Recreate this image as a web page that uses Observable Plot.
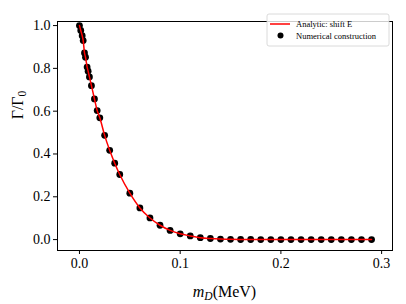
<!DOCTYPE html>
<html>
<head>
<meta charset="utf-8">
<script src="https://cdn.jsdelivr.net/npm/d3@7"></script>
<script src="https://cdn.jsdelivr.net/npm/@observablehq/plot@0.6"></script>
<style>
  html, body { margin: 0; padding: 0; background: #fff; }
  svg { display: block; }
</style>
</head>
<body>
<div id="chart"></div>
<script>
// m_D (MeV)
const mD = [0, 0.0013, 0.0027, 0.0037, 0.005, 0.006, 0.0076, 0.0086, 0.0099, 0.0119, 0.0149, 0.0176, 0.0202,
  0.025, 0.03, 0.035, 0.04, 0.05, 0.06, 0.07, 0.08, 0.09, 0.10, 0.11, 0.12, 0.13, 0.14,
  0.15, 0.16, 0.17, 0.18, 0.19, 0.20, 0.21, 0.22, 0.23, 0.24, 0.25, 0.26, 0.27, 0.28, 0.29];
// Gamma / Gamma_0
const ratio = [1.0, 0.977, 0.953, 0.93, 0.872, 0.852, 0.806, 0.787, 0.760, 0.719, 0.657, 0.603, 0.569,
  0.487, 0.417, 0.357, 0.304, 0.217, 0.148, 0.101, 0.067, 0.043, 0.027, 0.017, 0.009, 0.005, 0.0025,
  0.001, 0.0005, 0.0003, 0.0002, 0.0001, 0, 0, 0, 0, 0, 0, 0, 0, 0, 0];
const xTicks = [0, 0.1, 0.2, 0.3];
const yTicks = [0, 0.2, 0.4, 0.6, 0.8, 1.0];
const legendLabels = ["Analytic: shift E", "Numerical construction"];

const data = mD.map((x, i) => ({x, y: ratio[i]}));
const FONT = "'Liberation Serif', 'DejaVu Serif', serif";

const plot = Plot.plot({
  width: 406,
  height: 304,
  marginLeft: 57,
  marginRight: 14,
  marginTop: 21,
  marginBottom: 54,
  style: {fontFamily: FONT, fontSize: "14px", color: "#000", background: "#fff"},
  x: {domain: [-0.0218, 0.3108]},
  y: {domain: [-0.051, 1.019]},
  marks: [
    Plot.axisX({ticks: xTicks, tickFormat: d3.format(".1f"), tickSize: 4, tickPadding: 4, label: null, fontSize: 14}),
    Plot.axisY({ticks: yTicks, tickFormat: d3.format(".1f"), tickSize: 4, tickPadding: 3, label: null, fontSize: 14}),
    Plot.dot(data, {x: "x", y: "y", r: 3.4, fill: "black", stroke: "none"}),
    Plot.line(data, {x: "x", y: "y", stroke: "red", strokeWidth: 1.5, curve: "monotone-x"}),
    Plot.frame({stroke: "black", strokeWidth: 1})
  ]
});
document.getElementById("chart").appendChild(plot);

const svg = d3.select(plot);
// x label
const xl = svg.append("text").attr("x", 224.5).attr("y", 297).attr("text-anchor", "middle")
  .attr("font-family", FONT).attr("font-size", 16).attr("fill", "black");
xl.append("tspan").attr("font-style", "italic").text("m");
xl.append("tspan").attr("font-style", "italic").attr("font-size", 11.5).attr("dy", 3).text("D");
xl.append("tspan").attr("dy", -3).text("(MeV)");
// y label
const yl = svg.append("text").attr("transform", "translate(23,105) rotate(-90)").attr("text-anchor", "middle")
  .attr("font-family", FONT).attr("font-size", 16).attr("fill", "black");
yl.append("tspan").text("Γ/Γ");
yl.append("tspan").attr("font-size", 11.5).attr("dy", 3).text("0");

// legend
const lg = svg.append("g").attr("font-family", FONT).attr("font-size", 8.5).attr("text-anchor", "start").attr("fill", "black");
lg.append("rect").attr("x", 267).attr("y", 14).attr("width", 122).attr("height", 32).attr("rx", 2)
  .attr("fill", "white").attr("fill-opacity", 0.8).attr("stroke", "#d0d0d0").attr("stroke-width", 0.8);
lg.append("line").attr("x1", 270).attr("x2", 290).attr("y1", 24).attr("y2", 24).attr("stroke", "red").attr("stroke-width", 1.5);
lg.append("circle").attr("cx", 280.5).attr("cy", 35.5).attr("r", 3).attr("fill", "black");
lg.append("text").attr("x", 296).attr("y", 27).text(legendLabels[0]);
lg.append("text").attr("x", 296).attr("y", 38.5).text(legendLabels[1]);
</script>
</body>
</html>
